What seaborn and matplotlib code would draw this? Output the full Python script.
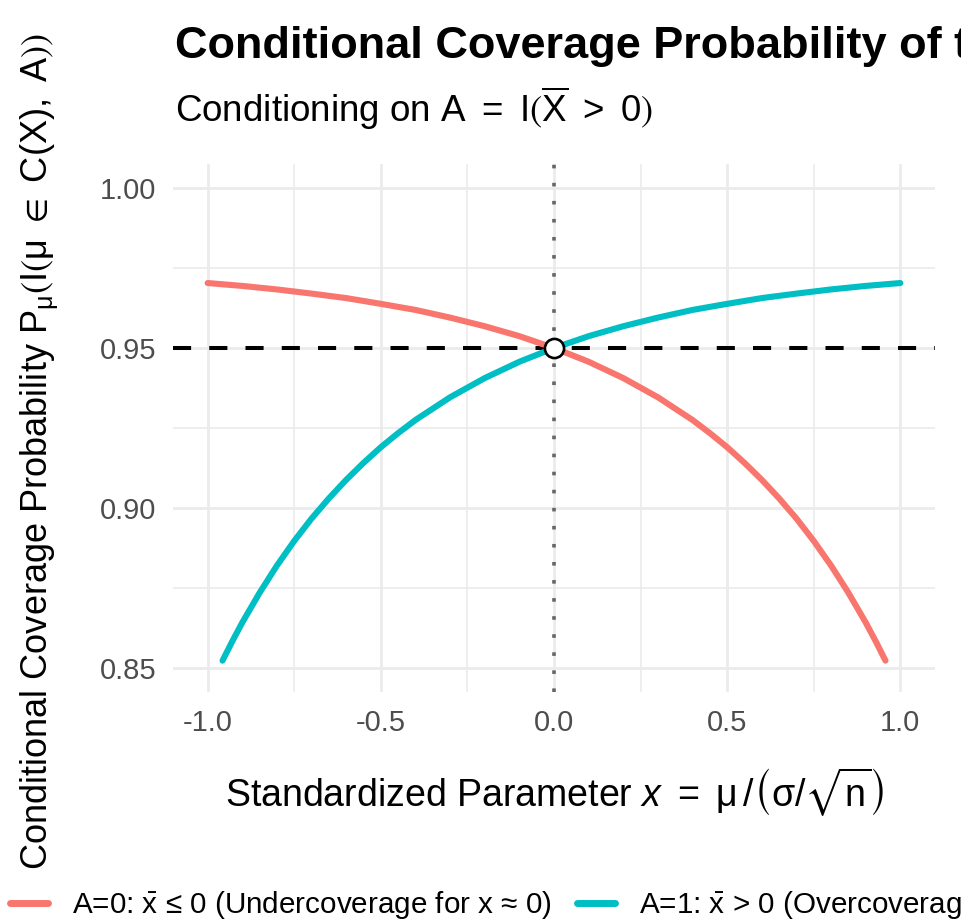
import numpy as np
import pandas as pd
import matplotlib
matplotlib.use("Agg")
import matplotlib.pyplot as plt
import seaborn as sns

# ---------------- data ----------------
red_x = [-1.0, -0.9, -0.8, -0.7, -0.6, -0.5, -0.4, -0.3, -0.2, -0.1, 0.0,
         0.1, 0.2, 0.3, 0.4, 0.45, 0.5, 0.55, 0.6, 0.65, 0.7, 0.75, 0.8,
         0.85, 0.9, 0.93, 0.957]
red_y = [0.9703, 0.9694, 0.9683, 0.9670, 0.9656, 0.9638, 0.9619, 0.9595,
         0.9568, 0.9537, 0.9500, 0.9457, 0.9406, 0.9346, 0.9275, 0.9234,
         0.9190, 0.9141, 0.9088, 0.9030, 0.8967, 0.8897, 0.8820, 0.8735,
         0.8642, 0.8581, 0.8523]
cyan_x = [-0.957, -0.93, -0.9, -0.85, -0.8, -0.75, -0.7, -0.65, -0.6, -0.55,
          -0.5, -0.45, -0.4, -0.3, -0.2, -0.1, 0.0, 0.1, 0.2, 0.3, 0.4, 0.5,
          0.6, 0.7, 0.8, 0.9, 1.0]
cyan_y = [0.8523, 0.8581, 0.8642, 0.8735, 0.8820, 0.8897, 0.8967, 0.9030,
          0.9088, 0.9141, 0.9190, 0.9234, 0.9275, 0.9346, 0.9406, 0.9457,
          0.9500, 0.9537, 0.9568, 0.9595, 0.9619, 0.9638, 0.9656, 0.9670,
          0.9683, 0.9694, 0.9703]
series_labels = [r"A=0: $\bar{\mathrm{x}}$ ≤ 0 (Undercoverage for x ≈ 0)",
                 r"A=1: $\bar{\mathrm{x}}$ > 0 (Overcoverage for x ≈ 0)"]
series_colors = ["#F8766D", "#00BFC4"]
nominal_level = [0.95]
crossing_x = [0.0]
crossing_y = [0.95]
x_ticks = [-1.0, -0.5, 0.0, 0.5, 1.0]
x_tick_labels = ["-1.0", "-0.5", "0.0", "0.5", "1.0"]
x_minor = [-0.75, -0.25, 0.25, 0.75]
y_ticks = [0.85, 0.90, 0.95, 1.00]
y_tick_labels = ["0.85", "0.90", "0.95", "1.00"]
y_minor = [0.875, 0.925, 0.975]

title = "Conditional Coverage Probability of the Standard Confidence Interval"
subtitle = r"Conditioning on $\mathrm{A}\ =\ \mathrm{I}\left(\overline{\mathrm{X}}\ >\ 0\right)$"
xlabel = r"Standardized Parameter $x\ =\ \mathrm{\mu}\,/\left(\mathrm{\sigma}/\sqrt{\mathrm{n}}\right)$"
ylabel = (r"Conditional Coverage Probability "
          r"$\mathrm{P}_{\mathrm{\mu}}\left(\mathrm{I}\left(\mathrm{\mu}\ \in\ \mathrm{C}(\mathrm{X}),\ \mathrm{A}\right)\right)$")

df = pd.concat([
    pd.DataFrame({"x": red_x, "y": red_y, "series": series_labels[0]}),
    pd.DataFrame({"x": cyan_x, "y": cyan_y, "series": series_labels[1]}),
], ignore_index=True)

# ---------------- style ----------------
sns.set_theme(style="white")
plt.rcParams["font.family"] = ["Liberation Sans", "DejaVu Sans"]
plt.rcParams["mathtext.fontset"] = "custom"
plt.rcParams["mathtext.rm"] = "Liberation Sans"
plt.rcParams["mathtext.it"] = "Liberation Sans:italic"
plt.rcParams["mathtext.bf"] = "Liberation Sans:bold"
plt.rcParams["mathtext.fallback"] = "stixsans"
plt.rcParams["text.color"] = "black"

W, H = 961, 922
fig = plt.figure(figsize=(W / 100, H / 100), dpi=100)
fig.patch.set_facecolor("white")
pl, pr, pt, pb = 173, 935, 164, 692
ax = fig.add_axes([pl / W, 1 - pb / H, (pr - pl) / W, (pb - pt) / H])
ax.set_facecolor("white")

# reference lines
ax.axhline(nominal_level[0], color="black", lw=2.9, dashes=(4.5, 4.5), zorder=2)
ax.axvline(crossing_x[0], color="#666666", lw=2.6, dashes=(1.0, 4.0), zorder=2)

sns.lineplot(data=df, x="x", y="y", hue="series", hue_order=series_labels,
             palette=series_colors, lw=4.4, ax=ax, sort=True, zorder=3,
             estimator=None)

ax.scatter(crossing_x, crossing_y, s=190, facecolor="white", edgecolor="black",
           linewidth=1.9, zorder=5)

ax.set_xlim(-1.1, 1.1)
ax.set_ylim(0.8425, 1.0075)
ax.set_xticks(x_ticks)
ax.set_xticklabels(x_tick_labels)
ax.set_yticks(y_ticks)
ax.set_yticklabels(y_tick_labels)
ax.set_xticks(x_minor, minor=True)
ax.set_yticks(y_minor, minor=True)
ax.grid(which="major", color="#EBEBEB", lw=2.0)
ax.grid(which="minor", color="#EBEBEB", lw=1.2)
ax.set_axisbelow(True)
for s in ax.spines.values():
    s.set_visible(False)
ax.tick_params(which="both", length=0, labelsize=21, labelcolor="#4D4D4D")
ax.tick_params(axis="y", pad=12)
ax.tick_params(axis="x", pad=12)

ax.set_xlabel(xlabel, fontsize=27, color="black")
ax.xaxis.set_label_coords(555 / W, 1 - 806 / H, transform=fig.transFigure)
ax.xaxis.label.set_va("baseline")
ax.set_ylabel(ylabel, fontsize=26, color="black")
ax.yaxis.set_label_coords(40 / W, 1 - 870 / H, transform=fig.transFigure)
ax.yaxis.label.set_rotation_mode("default")
ax.yaxis.label.set_ha("center")
ax.yaxis.label.set_va("bottom")

# legend at bottom
handles, labels = ax.get_legend_handles_labels()
if ax.get_legend() is not None:
    ax.get_legend().remove()
leg = fig.legend(handles, labels, loc="center left",
                 bbox_to_anchor=(10 / W, 1 - 905 / H), ncol=2, frameon=False,
                 fontsize=21.3, handlelength=1.3, handletextpad=0.8,
                 columnspacing=0.85, borderpad=0, borderaxespad=0)
for h in leg.legend_handles:
    h.set_linewidth(5)

fig.text(175 / W, 1 - 58 / H, title, fontsize=32.5, fontweight="bold",
         color="black", va="baseline", ha="left")
fig.text(175 / W, 1 - 122 / H, subtitle, fontsize=26.5, color="black",
         va="baseline", ha="left")

fig.savefig("out.png", dpi=100, facecolor="white")
